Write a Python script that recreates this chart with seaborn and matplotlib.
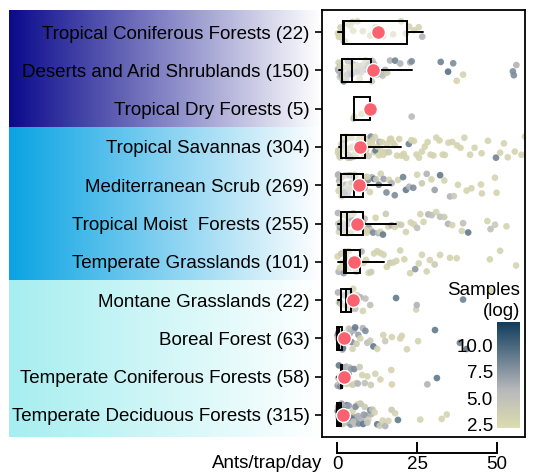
import numpy as np
import pandas as pd
import matplotlib
matplotlib.use("Agg")
import matplotlib.pyplot as plt
from matplotlib.colors import LinearSegmentedColormap, Normalize, to_rgb
from matplotlib.cm import ScalarMappable
import seaborn as sns

# ---------------- data ----------------
biomes = ["Tropical Coniferous Forests (22)", "Deserts and Arid Shrublands (150)",
          "Tropical Dry Forests (5)", "Tropical Savannas (304)",
          "Mediterranean Scrub (269)", "Tropical Moist  Forests (255)",
          "Temperate Grasslands (101)", "Montane Grasslands (22)",
          "Boreal Forest (63)", "Temperate Coniferous Forests (58)",
          "Temperate Deciduous Forests (315)"]

# (ants/trap/day, log samples) pairs
trop_conif = [(0.2,3),(0.5,3),(1.0,3.5),(1.5,3),(2.0,4),(2.5,3),(3.1,3),(4.0,3),(4.7,3.5),(5.0,3),
              (6.3,3),(8.0,3),(10.3,3),(11.9,3),(14.4,3),(17.5,3),(20.0,3),(21.5,3),(22.5,3),
              (24.0,3),(25.5,3),(26.6,6)]
deserts = [(0.2,5),(0.4,3),(0.6,6),(0.8,4),(1.0,7),(1.2,3),(1.5,6),(1.7,4),(2.0,8),(2.2,3),(2.5,6),
           (2.8,5),(3.0,3),(3.3,7),(3.6,4),(4.0,6),(4.3,3),(4.7,8),(5.0,5),(5.4,3),(5.8,6),(6.2,4),
           (6.6,7),(7.0,3),(7.5,5),(8.0,6),(8.5,3),(9.0,7),(9.5,4),(10.0,6),(10.5,3),(11.0,5),
           (0.3,6),(0.9,3),(1.4,7),(1.9,5),(2.4,3),(3.1,6),(3.8,4),(4.5,7),(5.2,3),(6.0,6),
           (6.9,4),(7.8,5),(8.8,3),(9.8,6),(10.8,4),
           (11.5,6),(12.3,4),(13.4,6),(14.2,5),(15.0,6),(15.6,4),(16.5,6),(18.1,8.5),(19.7,6),
           (22.8,6),(23.3,8),(32.4,8.5),(34.7,9.5),(36.3,8),(37.4,3),(39.4,3),(55.0,8),(55.3,8),(56.1,6)]
trop_dry = [(5.1,5),(5.3,3),(7.6,3),(10.1,4),(23.3,5.5)]
savannas = [(0.2,3),(0.4,3),(0.7,4),(1.0,6),(1.3,3),(1.6,3),(2.0,3),(2.3,7),(2.6,3),(3.0,3),(3.3,4),
            (3.7,5),(4.0,3),(4.4,3),(4.8,3),(5.2,4),(5.6,3),(6.0,3),(6.5,3),(7.0,3),(7.5,4),(8.0,3),
            (8.5,3),(9.0,3),(9.5,3),(10.0,3),(10.5,8),(11.0,3),(11.5,3),(12.0,9),(12.6,3),(13.2,6),
            (0.3,3),(0.9,3),(1.5,5),(2.1,3),(2.8,3),(3.5,3),(4.2,6),(5.0,3),(5.8,3),(6.7,3),
            (7.8,3),(8.8,3),(9.8,4),(10.8,3),(11.8,3),(13.0,3),(14.0,3),(15.2,3),(16.5,3),
            (13.8,3),(14.4,3),(15.0,3),(15.6,3),(16.2,4),(16.8,3),(17.4,3),(18.0,3),(18.7,3),(19.4,3),
            (20.1,3),(20.8,3),(21.6,3),(22.4,8.5),(23.2,3),(24.0,3),(24.8,3),(25.6,3),(26.5,3),
            (27.4,3),(28.3,3),(29.2,3),(30.1,3),(31.0,3),(32.0,3),(33.0,3),(33.7,3),(34.8,3),
            (36.0,3),(37.5,3),(38.6,3),(39.8,3),(41.6,3),(43.0,3),(45.2,3),(47.2,3),(49.7,8.5),
            (51.0,3),(52.2,3),(53.4,3),(55.6,3),(57.7,3),(58.8,3)]
medit = [(0.2,5),(0.4,3),(0.6,6),(0.9,4),(1.1,7),(1.4,3),(1.7,5),(2.0,6),(2.3,3),(2.6,8),(3.0,4),
         (3.3,6),(3.6,3),(4.0,7),(4.4,5),(4.8,3),(5.2,8),(5.6,4),(6.0,6),(6.5,3),(7.0,9),(7.5,5),
         (8.0,3),(8.5,7),(9.0,4),(9.6,8),(10.2,3),(10.8,6),(11.5,9),(12.2,4),(13.0,8.5),(13.6,3),
         (0.3,6),(0.8,3),(1.3,5),(1.9,4),(2.5,7),(3.1,3),(3.8,5),(4.6,6),(5.4,3),(6.2,8),
         (7.2,4),(8.2,6),(9.3,3),
         (14.5,7),(15.4,8),(16.2,3),(17.0,6),(18.0,8),(19.0,3),(20.6,8.5),(21.5,9),(22.5,6),
         (23.8,8),(25.0,3),(26.5,4),(28.0,6),(29.5,3),(30.5,7),(32.2,9),(33.5,3),(35.3,6),
         (36.5,4),(37.8,3),(40.5,3),(42.0,3),(45.0,3),(45.3,3),(49.4,3),(49.9,3)]
trop_moist = [(0.2,6),(0.5,3),(0.8,7),(1.0,4),(1.3,8),(1.6,3),(1.9,6),(2.2,9),(2.5,4),(2.8,7),
              (3.1,3),(3.4,8),(3.8,5),(4.2,3),(4.6,9),(5.0,6),(5.4,3),(5.9,8),(6.4,4),(6.9,7),
              (7.4,3),(8.0,9),(8.6,5),(9.2,3),(9.8,7),(10.5,4),(11.2,8),(12.0,3),(12.8,6),(13.5,3),
              (0.3,4),(0.9,6),(1.5,3),(2.0,5),(2.7,3),(3.3,6),(4.0,4),(4.9,3),(5.7,5),(6.6,3),
              (7.7,6),(9.0,3),
              (14.3,9),(15.2,4),(16.0,3),(17.0,6),(18.0,3),(19.0,3),(20.0,4),(21.5,3),(23.0,3),
              (24.0,3),(25.0,5),(26.0,3),(27.0,3),(28.5,6),(29.6,5),(31.0,3),(32.2,5),(33.5,4),
              (34.7,6),(36.0,3),(39.0,3),(39.4,5),(41.0,9),(47.0,3),(48.0,5),(49.4,4),(53.0,3)]
temp_grass = [(0.1,3),(0.4,6),(0.8,3),(1.2,4),(1.6,3),(2.0,7),(2.4,3),(2.8,3),(3.2,5),(3.6,3),
              (4.0,3),(4.5,8),(5.0,3),(5.5,3),(6.0,4),(6.5,3),(7.0,3),(7.6,6),(8.2,3),(9.0,3),
              (9.8,3),(10.6,4),(11.5,3),(12.5,3),(13.5,3),(14.5,3),(15.5,3),(16.5,4),(17.5,3),
              (18.5,3),(19.7,3),(21.0,3),(22.8,3),(24.4,7.5),(25.5,3),(26.5,3),(28.0,3),(29.0,3),
              (30.5,4),(32.2,3),(35.3,3),(37.4,3),(47.8,3),(51.0,3),(56.0,3)]
montane = [(0.2,6),(0.5,3),(0.9,7),(1.3,4),(1.8,3),(2.3,6),(2.8,5),(3.3,3),(3.8,7),(4.2,4),(5.0,3),
           (5.6,5),(6.2,3),(7.2,6),(8.0,3),(8.8,5),(10.3,5),(18.4,9),(24.7,3),(24.9,6),(39.4,8.5),
           (47.8,3)]
boreal = [(0.1,8),(0.2,6),(0.3,9),(0.4,5),(0.5,7),(0.6,3),(0.7,8),(0.8,6),(0.9,10),(1.0,4),(1.1,7),
          (1.2,9),(1.3,5),(1.4,3),(1.5,8),(1.6,6),(1.8,9),(2.0,4),(2.2,7),(2.4,5),(2.6,8),(2.8,3),
          (3.0,6),(3.3,9),(3.6,4),(3.9,7),(4.2,5),(4.5,8),(4.8,3),(5.2,6),(5.6,9),(6.0,4),(6.6,7),
          (7.2,3),(8.0,6),(8.8,8),(9.4,5),(10.3,4),(11.3,9),(12.5,3),(14.4,3),(15.0,4),(17.1,3),
          (19.7,3),(20.2,3),(21.8,3),(25.3,3),(30.6,9),(38.4,8.5),(40.5,9)]
temp_conif = [(0.1,7),(0.3,5),(0.5,9),(0.7,4),(0.9,8),(1.1,6),(1.3,3),(1.5,9),(1.7,5),(1.9,7),
              (2.2,4),(2.5,8),(2.8,6),(3.1,3),(3.5,9),(3.9,5),(4.3,7),(4.8,4),(5.3,8),(5.8,3),
              (6.4,6),(7.0,4),(7.8,3),(8.6,5),(9.4,3),(10.5,4),(11.9,3),(13.5,3),(16.9,3),(17.1,3),
              (28.2,6),(31.2,9)]
temp_decid = [(0.1,6),(0.2,9),(0.3,4),(0.4,8),(0.5,7),(0.6,3),(0.7,10),(0.8,5),(0.9,8),(1.0,6),
              (1.1,4),(1.2,9),(1.3,7),(1.4,3),(1.5,8),(1.6,5),(1.8,10),(2.0,6),(2.2,4),(2.4,8),
              (2.6,7),(2.8,3),(3.0,9),(3.3,5),(3.6,7),(3.9,4),(4.2,8),(4.5,6),(4.8,3),(5.1,9),
              (5.5,5),(5.9,7),(6.3,4),(6.7,8),(7.1,3),(7.6,6),(8.1,9),(8.6,4),(9.1,7),(9.7,3),
              (0.2,5),(0.5,8),(0.9,4),(1.3,9),(1.7,6),(2.1,8),(2.5,5),(3.2,7),(3.8,6),(4.4,9),
              (5.0,5),(5.7,8),(6.5,6),(7.3,4),(8.3,7),(9.4,5),(10.6,6),
              (10.3,8),(11.0,5),(11.7,3),(12.5,9),(13.3,4),(14.2,3),(15.0,6),(16.0,3),(17.0,4),
              (18.1,3),(19.0,9),(26.0,3),(32.7,3),(34.3,3)]

# box statistics per biome
q1      = [1.8, 1.35, 5.2, 1.25, 1.25, 1.25, 2.0, 1.25, 0.05, 1.1, 0.05]
medians = [2.2, 4.7, 10.1, 2.6, 5.1, 3.0, 2.8, 2.8, 0.5, 1.25, 0.4]
q3      = [21.7, 10.5, 10.1, 8.75, 7.9, 8.2, 7.0, 4.3, 1.5, 1.4, 1.25]
whislo  = [0.1, 0.4, 5.2, 0.4, 0.1, 0.1, 0.1, 0.1, 0.0, 0.0, 0.0]
whishi  = [26.7, 23.3, 10.1, 19.9, 16.8, 18.4, 14.5, 6.9, 3.0, 2.5, 2.5]
means   = [12.6, 11.1, 10.3, 7.2, 6.7, 6.1, 5.1, 4.9, 2.2, 2.0, 1.8]

group_colors = ["#0a0a8c", "#0aa3e3", "#a6eef0"]
xticks = [0, 25, 50]

# ---------------- figure ----------------
sns.set_style("white")
plt.rcParams["font.family"] = ["Liberation Sans", "DejaVu Sans"]
plt.rcParams["text.color"] = "black"
plt.rcParams["xtick.color"] = "black"
plt.rcParams["ytick.color"] = "black"
plt.rcParams["axes.labelcolor"] = "black"
FS = 13.5

fig = plt.figure(figsize=(5.33, 4.74), dpi=100)
W, H = 533, 474
ax_l, ax_r, ax_t, ax_b = 322, 525, 10, 437
ylims = (10.58, -0.58)

# gradient background behind labels
bg = fig.add_axes([9 / W, 1 - ax_b / H, (320 - 9) / W, (ax_b - ax_t) / H])
bg.set_xlim(0, 1)
bg.set_ylim(*ylims)
bg.axis("off")
spans = [(-0.58, 2.5), (2.5, 6.5), (6.5, 10.58)]
for c, (y0, y1) in zip(group_colors, spans):
    c0 = np.array(to_rgb(c))
    t = np.linspace(0, 1, 256)[:, None]
    grad = (c0[None, :] * (1 - t) + np.ones(3)[None, :] * t)[None, :, :]
    bg.imshow(grad, extent=[0, 1, y1, y0], aspect="auto", interpolation="bilinear")
bg.set_ylim(*ylims)

ax = fig.add_axes([ax_l / W, 1 - ax_b / H, (ax_r - ax_l) / W, (ax_b - ax_t) / H])

cmap = LinearSegmentedColormap.from_list(
    "samp", [(0, "#dcdcae"), (0.35, "#b9b9bd"), (1, "#0f3d5c")])
norm = Normalize(2.2, 12.2)

groups = [trop_conif, deserts, trop_dry, savannas, medit, trop_moist, temp_grass,
          montane, boreal, temp_conif, temp_decid]
rows = []
for name, pts in zip(biomes, groups):
    for v, s in pts:
        rows.append((name, v, s))
df = pd.DataFrame(rows, columns=["biome", "ants", "samples"])

np.random.seed(3)
sns.stripplot(data=df, x="ants", y="biome", hue="samples", order=biomes,
              palette=cmap, hue_norm=norm, jitter=0.3, size=4.8, alpha=0.9,
              linewidth=0, legend=False, ax=ax, zorder=1)

stats = [dict(q1=a, med=m, q3=b, whislo=lo, whishi=hi, fliers=[])
         for a, m, b, lo, hi in zip(q1, medians, q3, whislo, whishi)]
ax.bxp(stats, positions=list(range(len(biomes))), widths=0.6, orientation="horizontal",
       showcaps=False, showfliers=False, patch_artist=True, manage_ticks=False,
       boxprops=dict(facecolor=(1, 1, 1, 0.45), edgecolor="black", linewidth=1.4),
       whiskerprops=dict(color="black", linewidth=1.4),
       medianprops=dict(color="black", linewidth=1.4), zorder=3)

sns.pointplot(x=means, y=biomes, order=biomes, linestyle="none", marker="o",
              markersize=10, color="#f9626e", markeredgecolor="white",
              markeredgewidth=1.0, errorbar=None, ax=ax, zorder=5)

ax.set_xlim(-4.8, 58.8)
ax.set_ylim(*ylims)
ax.set_xticks(xticks)
ax.set_xlabel("")
ax.set_ylabel("")
ax.tick_params(axis="y", direction="out", length=5, width=1.2, labelsize=FS, pad=4,
               left=True, colors="black")
ax.tick_params(axis="x", direction="in", length=8, width=1.4, labelsize=FS, pad=2,
               bottom=True, colors="black")

for s in ["top", "right", "left"]:
    ax.spines[s].set_visible(True)
    ax.spines[s].set_color("black")
    ax.spines[s].set_linewidth(1.3)
ax.spines["bottom"].set_position(("outward", 11.5))
ax.spines["bottom"].set_bounds(0, 50)
ax.spines["bottom"].set_color("black")
ax.spines["bottom"].set_linewidth(1.4)
ax.plot([0, 1], [0, 0], transform=ax.transAxes, color="black", lw=1.3, clip_on=False, zorder=6)

fig.text(322 / W, 1 - 463 / H, "Ants/trap/day", ha="right", va="center", fontsize=FS)

# colorbar legend
cax = fig.add_axes([497 / W, 1 - 428 / H, 23 / W, 106 / H])
cb = fig.colorbar(ScalarMappable(norm=norm, cmap=cmap), cax=cax, ticks=[2.5, 5.0, 7.5, 10.0])
cb.outline.set_visible(False)
cax.yaxis.set_ticks_position("left")
cax.yaxis.set_label_position("left")
cax.tick_params(axis="y", direction="in", color="white", length=5, width=1.2,
                labelsize=FS, pad=3, labelcolor="black")
fig.text(520 / W, 1 - 301 / H, "Samples\n(log)", ha="right", va="center",
         fontsize=FS, multialignment="right", linespacing=1.25)

fig.savefig("out.png", dpi=100)
